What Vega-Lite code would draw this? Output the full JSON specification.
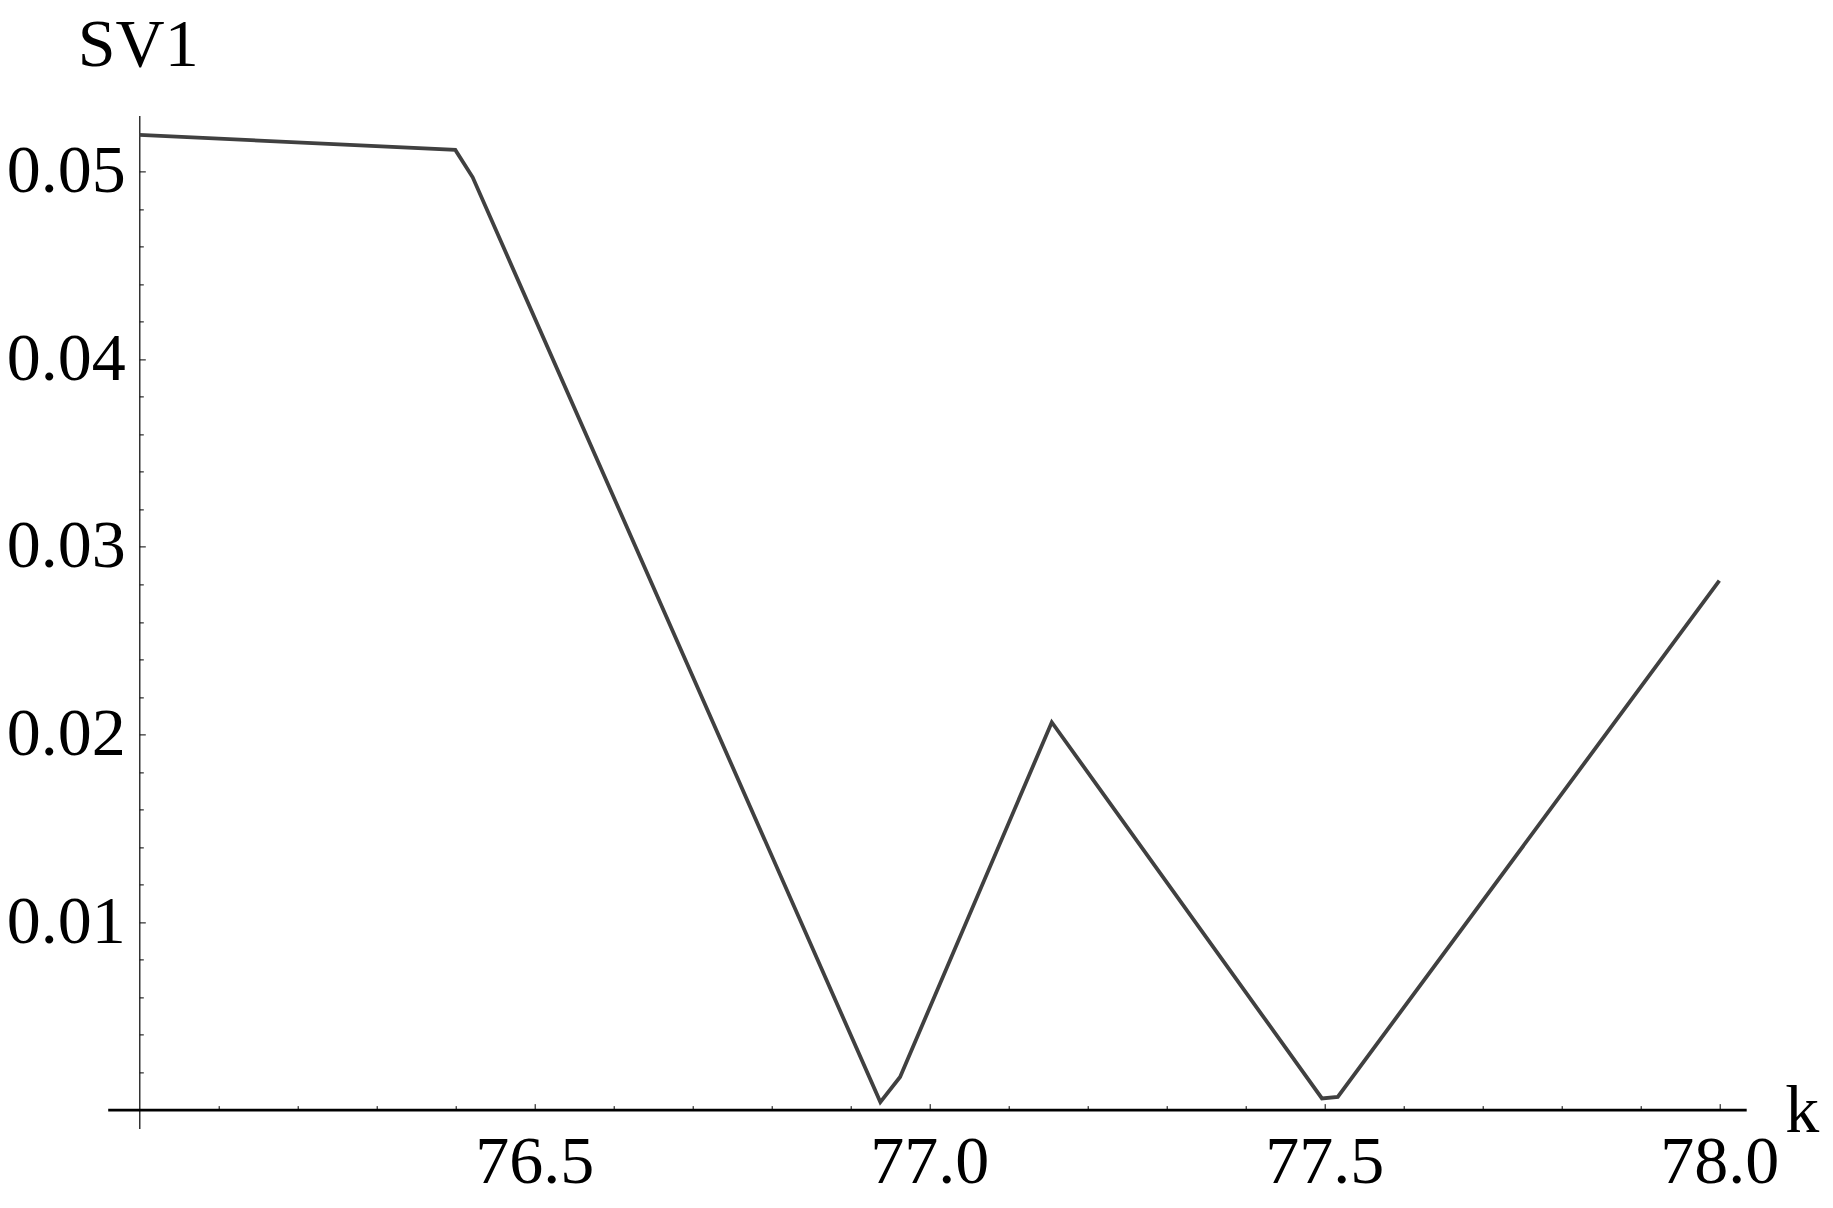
{
  "$schema": "https://vega.github.io/schema/vega-lite/v6.json",
  "autosize": {"type": "none"},
  "padding": {"left": 107.7, "top": 115.4, "right": 86.8, "bottom": 79.6},
  "width": 1638.5,
  "height": 1013,
  "background": "white",
  "config": {"view": {"stroke": null}, "font": "Liberation Serif"},
  "data": {"values": [
    {"k": 76.0, "SV1": 0.05196},
    {"k": 76.4, "SV1": 0.05116},
    {"k": 76.422, "SV1": 0.0497},
    {"k": 76.938, "SV1": 0.0004},
    {"k": 76.963, "SV1": 0.00174},
    {"k": 77.155, "SV1": 0.02065},
    {"k": 77.497, "SV1": 0.0006},
    {"k": 77.517, "SV1": 0.00068},
    {"k": 78.0, "SV1": 0.0282}
  ]},
  "mark": {"type": "line", "color": "#404040", "strokeWidth": 3.8, "clip": false},
  "encoding": {
    "x": {
      "field": "k", "type": "quantitative",
      "scale": {"domain": [75.96, 78.034], "nice": false, "zero": false},
      "axis": {
        "title": "k",
        "titleFont": "Liberation Serif", "titleFontSize": 68, "titleFontWeight": "normal", "titleColor": "black",
        "titleAlign": "left", "titleBaseline": "alphabetic", "titleX": 1677, "titleY": 22,
        "offset": -18.76,
        "values": [76.1, 76.2, 76.3, 76.4, 76.5, 76.6, 76.7, 76.8, 76.9, 77.0, 77.1, 77.2, 77.3, 77.4, 77.5, 77.6, 77.7, 77.8, 77.9, 78.0],
        "labelExpr": "abs(datum.value*2 - round(datum.value*2)) < 1e-6 ? format(datum.value, '.1f') : ''",
        "labelFont": "Liberation Serif", "labelFontSize": 68, "labelColor": "black",
        "labelPadding": 25, "labelFlush": false, "labelOverlap": false,
        "domainColor": "black", "domainWidth": 2.6,
        "tickColor": "black", "tickWidth": 1,
        "tickSize": {"condition": {"test": "abs(datum.value*2 - round(datum.value*2)) < 1e-6", "value": -6}, "value": -4},
        "grid": false
      }
    },
    "y": {
      "field": "SV1", "type": "quantitative",
      "scale": {"domain": [-0.001, 0.053], "nice": false, "zero": false},
      "axis": {
        "title": "SV1",
        "titleFont": "Liberation Serif", "titleFontSize": 68, "titleFontWeight": "normal", "titleColor": "black",
        "titleAngle": 0, "titleAlign": "left", "titleBaseline": "alphabetic", "titleX": -62, "titleY": -50,
        "offset": -31.6,
        "values": [0.002, 0.004, 0.006, 0.008, 0.01, 0.012, 0.014, 0.016, 0.018, 0.02, 0.022, 0.024, 0.026, 0.028, 0.03, 0.032, 0.034, 0.036, 0.038, 0.04, 0.042, 0.044, 0.046, 0.048, 0.05, 0.052],
        "labelExpr": "abs(datum.value*100 - round(datum.value*100)) < 1e-6 ? format(datum.value, '.2f') : ''",
        "labelFont": "Liberation Serif", "labelFontSize": 68, "labelColor": "black",
        "labelPadding": 20, "labelFlush": false, "labelOverlap": false,
        "domainColor": "black", "domainWidth": 1.2,
        "tickColor": "black", "tickWidth": 1,
        "tickSize": {"condition": {"test": "abs(datum.value*100 - round(datum.value*100)) < 1e-6", "value": -6}, "value": -4},
        "grid": false
      }
    }
  }
}
